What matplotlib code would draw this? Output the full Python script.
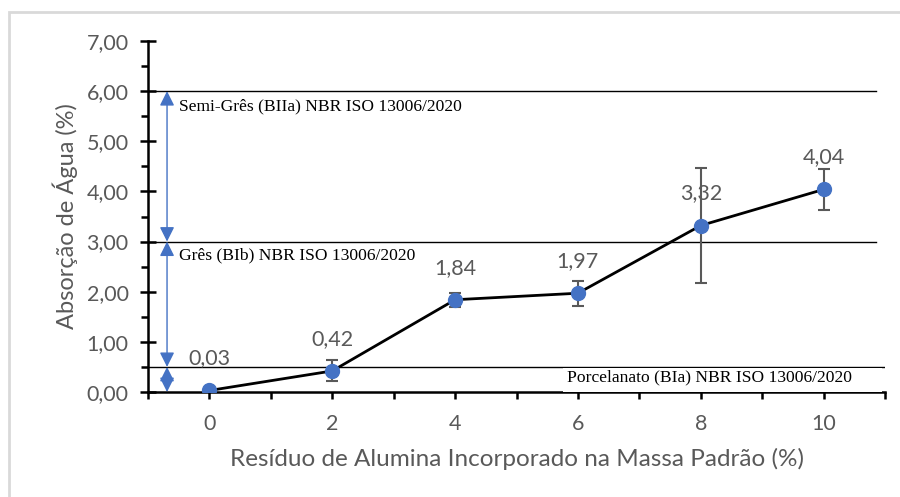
import matplotlib.pyplot as plt
from matplotlib.patches import Rectangle
from matplotlib.ticker import MultipleLocator, FuncFormatter

# dados
residuo = [0, 2, 4, 6, 8, 10]
absorcao = [0.03, 0.42, 1.84, 1.97, 3.32, 4.04]
erro = [0.0, 0.21, 0.14, 0.25, 1.14, 0.41]
rotulos = ["0,03", "0,42", "1,84", "1,97", "3,32", "4,04"]

limites = [6.0, 3.0, 0.5]
limites_fim = [10.86, 10.86, 11.0]
faixas = [(6.0, 3.0), (3.0, 0.5), (0.5, 0.0)]
nomes = ["Semi-Grês (BIIa) NBR ISO 13006/2020",
         "Grês (BIb) NBR ISO 13006/2020",
         "Porcelanato (BIa) NBR ISO 13006/2020"]

azul = "#4472C4"
cinza = "#595959"

plt.rcParams['font.family'] = ['Lato', 'DejaVu Sans']

fig = plt.figure(figsize=(9, 4.97), dpi=100)
fig.patches.append(Rectangle((9 / 900, -0.05), 1.2, 1 - 12 / 497 + 0.05,
                             transform=fig.transFigure, fill=False,
                             edgecolor="#d9d9d9", linewidth=2))
ax = fig.add_axes([148 / 900, 105 / 497, 737 / 900, 351 / 497])

ax.set_xlim(-1, 11)
ax.set_ylim(0, 7)

for y, xf in zip(limites, limites_fim):
    ax.plot([-1, xf], [y, y], color="black", linewidth=1, zorder=1)

x_seta = -0.69
for topo, base in faixas:
    ax.annotate("", xy=(x_seta, topo), xytext=(x_seta, base),
                arrowprops=dict(arrowstyle="<|-|>", color=azul, lw=1,
                                mutation_scale=22, shrinkA=0, shrinkB=0))

serif = ['Liberation Serif', 'DejaVu Serif']
ax.text(-0.5, 5.69, nomes[0], fontsize=12.6, family=serif, va="center", ha="left")
ax.text(-0.5, 2.72, nomes[1], fontsize=12.6, family=serif, va="center", ha="left")
# caixa branca do rótulo que cobre o eixo x
ax.add_patch(Rectangle((5.75, -0.03), 5.2, 0.5, facecolor="white",
                       edgecolor="none", zorder=1.2))
ax.text(5.82, 0.29, nomes[2], fontsize=12.6, family=serif, va="center", ha="left",
        zorder=5)

ax.errorbar(residuo, absorcao, yerr=erro, fmt="none", ecolor=cinza,
            elinewidth=1.5, capsize=4.5, capthick=1.5, zorder=2)
ax.plot(residuo, absorcao, color="black", linewidth=2, zorder=3)
ax.plot(residuo, absorcao, "o", color=azul, markersize=10, zorder=4)

for x, y, r in zip(residuo, absorcao, rotulos):
    ax.annotate(r, (x, y), xytext=(0, 23), textcoords="offset points",
                ha="center", va="center", fontsize=15.5, color=cinza)

for s in ["top", "right"]:
    ax.spines[s].set_visible(False)
for s in ["left", "bottom"]:
    ax.spines[s].set_linewidth(1.8)
    ax.spines[s].set_zorder(0)

ax.yaxis.set_major_locator(MultipleLocator(1))
ax.yaxis.set_minor_locator(MultipleLocator(0.5))
ax.yaxis.set_major_formatter(FuncFormatter(lambda v, p: f"{v:.2f}".replace(".", ",")))
ax.xaxis.set_minor_locator(MultipleLocator(1))
ax.set_xticks(residuo)

ax.tick_params(axis="y", which="major", direction="inout", length=12, width=1.8,
               labelsize=15.5, labelcolor=cinza, pad=8)
ax.tick_params(axis="y", which="minor", direction="out", length=5, width=1.8)
ax.tick_params(axis="x", which="major", direction="out", length=5, width=1.8,
               labelsize=15.5, labelcolor=cinza, pad=11)
ax.tick_params(axis="x", which="minor", direction="out", length=5, width=1.8)

ax.set_ylabel("Absorção de Água (%)", fontsize=17, color=cinza, labelpad=6)
ax.set_xlabel("Resíduo de Alumina Incorporado na Massa Padrão (%)", fontsize=17.5,
              color=cinza, labelpad=10)

fig.savefig("out.png", dpi=100)
